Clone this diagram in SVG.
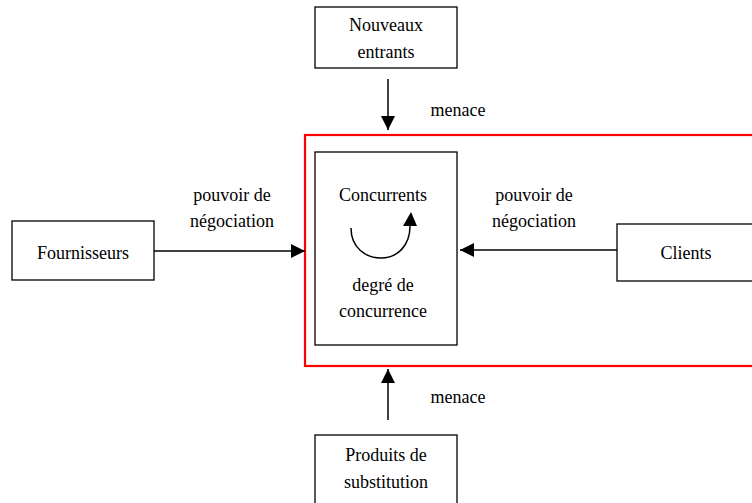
<svg xmlns="http://www.w3.org/2000/svg" width="752" height="503" viewBox="0 0 752 503">
<defs>
<style>
text{font-family:"Liberation Serif","Times New Roman",serif;font-size:18px;fill:#000;text-anchor:middle}
.box{fill:#fff;stroke:#000;stroke-width:1.3}
.ln{fill:none;stroke:#000;stroke-width:1.5}
</style>
<marker id="ah2" viewBox="0 0 14 14" refX="14" refY="7" markerWidth="14" markerHeight="14" markerUnits="userSpaceOnUse" orient="auto">
<path d="M0,0 L14,7 L0,14 Z" fill="#000"/>
</marker>
</defs>
<rect id="frame" x="305" y="135" width="460" height="231" fill="none" stroke="#f00" stroke-width="2.2"/>
<g id="nouveaux">
<rect class="box" x="315" y="7" width="142" height="61"/>
<text x="386" y="31">Nouveaux</text>
<text x="386" y="58">entrants</text>
</g>
<g id="concurrents">
<rect class="box" x="315" y="152" width="142" height="193"/>
<text x="383" y="201">Concurrents</text>
<text x="383" y="291">degré de</text>
<text x="383" y="317">concurrence</text>
</g>
<g id="fournisseurs">
<rect class="box" x="12" y="221" width="142" height="59"/>
<text x="83" y="259">Fournisseurs</text>
</g>
<g id="clients">
<rect class="box" x="617" y="224" width="145" height="57"/>
<text x="686" y="259">Clients</text>
</g>
<g id="produits">
<rect class="box" x="315" y="435" width="142" height="80"/>
<text x="386" y="461">Produits de</text>
<text x="386" y="488">substitution</text>
</g>
<g id="connectors">
<line class="ln" x1="388" y1="79" x2="388" y2="130" marker-end="url(#ah2)"/>
<line class="ln" x1="388" y1="420" x2="388" y2="369" marker-end="url(#ah2)"/>
<line class="ln" x1="154" y1="251" x2="305" y2="251" marker-end="url(#ah2)"/>
<line class="ln" x1="617" y1="250" x2="460" y2="250" marker-end="url(#ah2)"/>
<path class="ln" d="M351,228 C351,248 366,258 381,258 C398,258 410,245 410,226"/>
<path d="M403,226 L417,226 L411,212 Z" fill="#000"/>
<text x="458" y="116">menace</text>
<text x="458" y="403">menace</text>
<text x="232" y="201">pouvoir de</text>
<text x="232" y="227">négociation</text>
<text x="534" y="201">pouvoir de</text>
<text x="534" y="227">négociation</text>
</g>
</svg>
